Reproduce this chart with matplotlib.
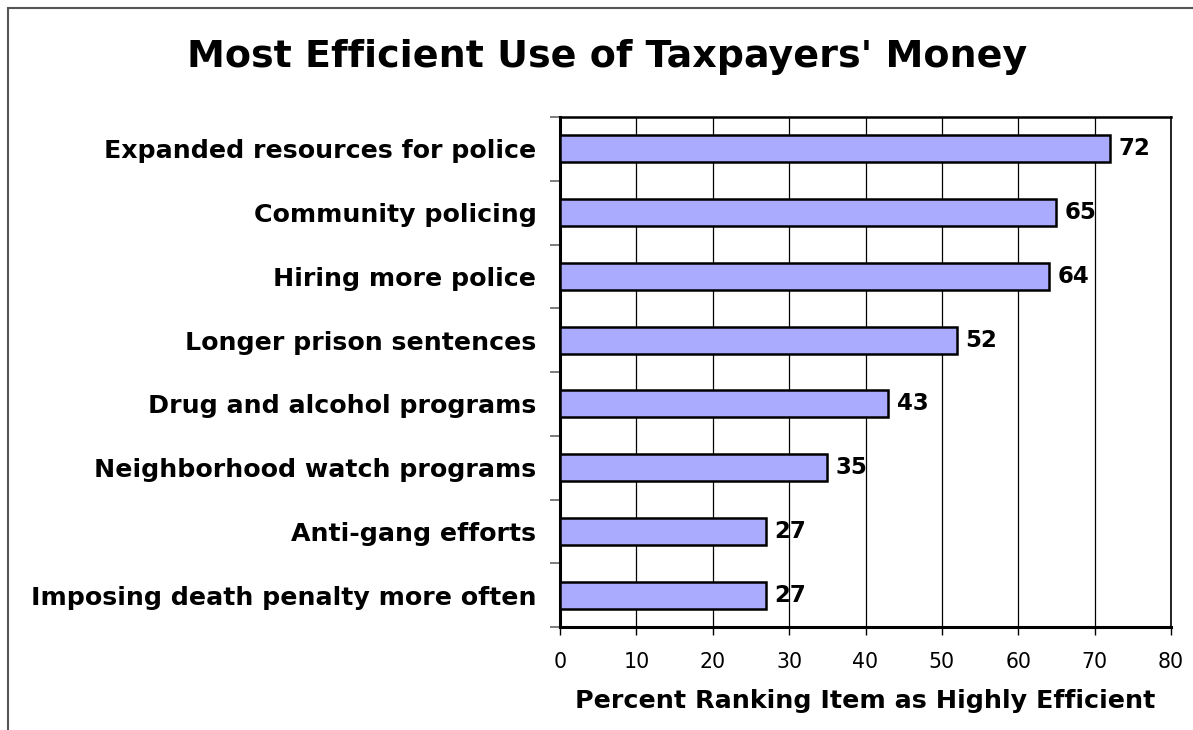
import numpy as np
import matplotlib.pyplot as plt
from matplotlib.patches import Rectangle

# data, top to bottom as shown
categories = ["Expanded resources for police", "Community policing", "Hiring more police",
              "Longer prison sentences", "Drug and alcohol programs",
              "Neighborhood watch programs", "Anti-gang efforts",
              "Imposing death penalty more often"]
values = [72, 65, 64, 52, 43, 35, 27, 27]
xticks = [0, 10, 20, 30, 40, 50, 60, 70, 80]

fig = plt.figure(figsize=(11.93, 7.3), dpi=100)
ax = fig.add_axes([560/1193, 1 - 627/730, 611/1193, 510/730])

# outer frame of the chart
fig.patches.append(Rectangle((8/1193, -0.1), 1.2, 1 - 8/730 + 0.1, transform=fig.transFigure,
                             fill=False, edgecolor="#555555", linewidth=1.5))

n = len(categories)
y = np.arange(n)
ax.barh(y, values, height=0.42, color="#AAAAFF", edgecolor="black", linewidth=1.8, zorder=3)
for yi, v in zip(y, values):
    ax.annotate(str(v), (v, yi), xytext=(6, 0), textcoords="offset points",
                va="center", ha="left", fontsize=16.5, fontweight="bold", zorder=4)

ax.set_ylim(n - 0.5, -0.5)
ax.set_xlim(0, 80)
ax.set_xticks(xticks)
ax.set_xticklabels([str(t) for t in xticks], fontsize=14.8)
ax.set_yticks(y)
ax.set_yticklabels(categories, fontsize=18.2, fontweight="bold")
ax.set_yticks(np.arange(n + 1) - 0.5, minor=True)
ax.tick_params(axis="y", which="major", length=0, pad=17)
ax.tick_params(axis="y", which="minor", length=7, width=1.2, color="#666666", direction="out")
ax.tick_params(axis="x", length=6, width=1, direction="out", pad=12)

ax.grid(axis="x", color="black", linewidth=0.9, zorder=0)
ax.spines["left"].set_linewidth(2.2)
ax.spines["bottom"].set_linewidth(2.2)
ax.spines["top"].set_linewidth(1.8)
ax.spines["right"].set_linewidth(1.2)

ax.set_xlabel("Percent Ranking Item as Highly Efficient", fontsize=18.3, fontweight="bold", labelpad=12)
fig.text(607/1193, 1 - 57/730, "Most Efficient Use of Taxpayers' Money", ha="center", va="center",
         fontsize=27.4, fontweight="bold")

fig.savefig("out.png", dpi=100)
